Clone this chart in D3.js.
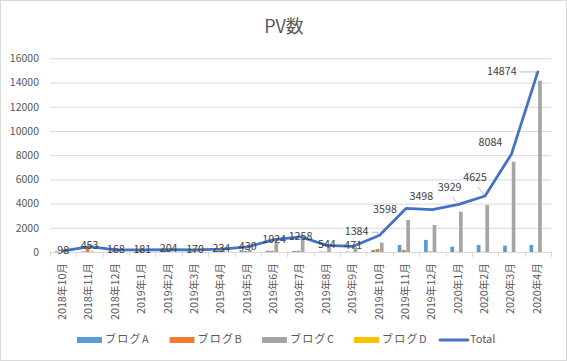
<!DOCTYPE html>
<html><head><meta charset="utf-8">
<script src="https://cdn.jsdelivr.net/npm/d3@7"></script>
<style>
body{margin:0;background:#fff;}
text{font-family:"Noto Sans CJK JP","Noto Sans",sans-serif;}
</style></head>
<body><svg id="c" width="567" height="361"></svg>
<script>
const categories=["2018年10月","2018年11月","2018年12月","2019年1月","2019年2月","2019年3月","2019年4月","2019年5月","2019年6月","2019年7月","2019年8月","2019年9月","2019年10月","2019年11月","2019年12月","2020年1月","2020年2月","2020年3月","2020年4月"];
const seriesNames=["ブログA","ブログB","ブログC","ブログD"];
const blogA=[60,50,40,40,30,30,40,150,100,80,40,30,170,580,1000,440,580,520,580];
const blogB=[30,350,100,110,140,90,80,80,100,100,20,10,250,170,40,20,20,10,20];
const blogC=[8,53,28,31,34,50,114,200,720,1000,440,400,780,2650,2230,3330,3880,7460,14150];
const blogD=[0,0,0,0,0,0,0,0,0,0,0,0,0,0,0,0,0,0,0];
const total=[98,453,168,181,204,170,234,430,1024,1258,544,471,1384,3598,3498,3929,4625,8084,14874];
const yTicks=[0,2000,4000,6000,8000,10000,12000,14000,16000];
// label layout offsets (dx,dy from point) and leader flags
const labelDx=[0,0,0,0,0,0,0,0,0,0,0,0,-23,-21,-11,-9,-10,-21,-36];
const labelDy=[0,0,0,0,0,0,0,0,0,0,0,0,-3,2,-13,-16,-18,-11,0];
const leader=[0,0,0,0,0,0,0,0,0,0,0,0,1,0,0,2,2,0,1];

const colors=["#5B9BD5","#ED7D31","#A5A5A5","#FFC000"];
const lineColor="#4472C4";
const seriesVals=[blogA,blogB,blogC,blogD];

const svg=d3.select("#c");
svg.append("rect").attr("x",0.5).attr("y",0.5).attr("width",566).attr("height",360)
  .attr("fill","#fff").attr("stroke","#d9d9d9");

const L=50,R=551,T=58.3,B=252;
const y=d3.scaleLinear().domain([0,16000]).range([B,T]);
const x0=d3.scaleBand().domain(categories).range([L,R]).paddingInner(0.348).paddingOuter(0.174);
const xs=d3.scaleBand().domain(categories).range([L,R]).padding(0);
const x1=d3.scaleBand().domain(seriesNames).range([0,x0.bandwidth()]);
const cx=c=>x0(c)+x0.bandwidth()/2;

// title
svg.append("text").attr("x",284).attr("y",33).attr("text-anchor","middle")
  .attr("font-size",18).attr("fill","#595959").text("PV数");

// gridlines + y axis
const ya=svg.append("g").attr("transform",`translate(${L},0)`)
  .call(d3.axisLeft(y).tickValues(yTicks).tickSize(-(R-L)).tickPadding(11).tickFormat(d3.format("d")));
ya.select(".domain").remove();
ya.selectAll(".tick line").attr("stroke","#d9d9d9").attr("stroke-width",1);
ya.selectAll(".tick text").attr("font-size",10.5).attr("fill","#595959")
  .style("font-family","'Noto Sans CJK JP',sans-serif");

// bars
seriesNames.forEach((s,si)=>{
  svg.append("g").selectAll("rect").data(categories).join("rect")
    .attr("x",c=>x0(c)+x1(s)+0.3)
    .attr("width",x1.bandwidth()-0.6)
    .attr("y",(c,i)=>y(seriesVals[si][i]))
    .attr("height",(c,i)=>B-y(seriesVals[si][i]))
    .attr("fill",colors[si]);
});

// x axis
svg.append("line").attr("x1",L).attr("x2",R).attr("y1",B+0.5).attr("y2",B+0.5).attr("stroke","#d9d9d9");
const bounds=categories.map(c=>xs(c)).concat([R]);
svg.append("g").selectAll("line").data(bounds).join("line")
  .attr("x1",d=>Math.round(d)+0.5).attr("x2",d=>Math.round(d)+0.5)
  .attr("y1",B).attr("y2",B+5).attr("stroke","#d9d9d9");
svg.append("g").selectAll("text").data(categories).join("text")
  .attr("transform",c=>`translate(${cx(c)},263) rotate(-90)`)
  .attr("text-anchor","end").attr("dominant-baseline","middle")
  .attr("font-size",10.7).attr("fill","#595959").text(c=>c);

// total line
const line=d3.line().x((d,i)=>cx(categories[i])).y(d=>y(d));
svg.append("path").datum(total).attr("d",line).attr("fill","none")
  .attr("stroke",lineColor).attr("stroke-width",2.8).attr("stroke-linejoin","round").attr("stroke-linecap","round");

// data labels
const lg=svg.append("g");
total.forEach((v,i)=>{
  const px=cx(categories[i]), py=y(v);
  const lx=px+labelDx[i], ly=py+labelDy[i];
  const t=lg.append("text").attr("x",lx).attr("y",ly).attr("text-anchor","middle")
    .attr("dominant-baseline","middle").attr("font-size",10.7).attr("fill","#404040").text(v);
  if(leader[i]===1){
    const w=t.node().getComputedTextLength();
    lg.append("polyline").attr("points",`${lx+w/2+3},${ly} ${px-2},${ly} ${px-2},${ly+3}`)
      .attr("fill","none").attr("stroke","#a6a6a6").attr("stroke-width",0.8);
  } else if(leader[i]===2){
    lg.append("line").attr("x1",lx+3).attr("y1",ly+9).attr("x2",px-1).attr("y2",py-1)
      .attr("stroke","#a6a6a6").attr("stroke-width",0.8);
  }
});

// legend
const legItems=seriesNames.map((s,i)=>({name:s,color:colors[i],type:"bar"})).concat([{name:"Total",color:lineColor,type:"line"}]);
const legX=[77,169.5,262,354,440];
const ly0=340;
legItems.forEach((d,i)=>{
  const g=svg.append("g").attr("transform",`translate(${legX[i]},${ly0})`);
  if(d.type==="bar") g.append("rect").attr("x",0).attr("y",-3).attr("width",25).attr("height",6).attr("fill",d.color);
  else g.append("line").attr("x1",0).attr("x2",28).attr("y1",0).attr("y2",0).attr("stroke",d.color).attr("stroke-width",2.8).attr("stroke-linecap","round");
  g.append("text").attr("x",d.type==="bar"?28:30).attr("y",0).attr("dominant-baseline","middle")
    .attr("font-size",11).attr("letter-spacing",d.type==="bar"?1.3:0).attr("fill","#595959").text(d.name);
});
</script></body></html>
